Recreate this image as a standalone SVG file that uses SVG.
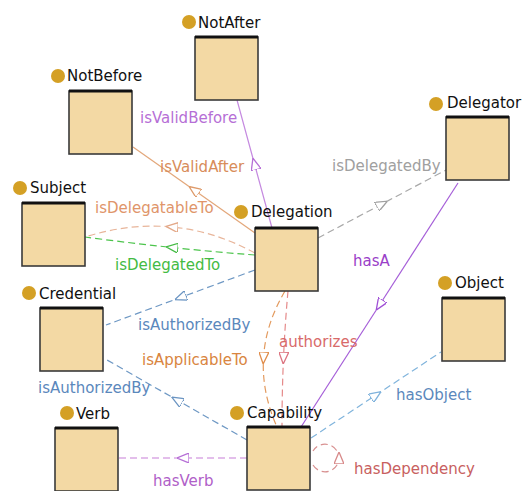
<svg xmlns="http://www.w3.org/2000/svg" width="522" height="491" viewBox="0 0 522 491">
  <style>
    text { font-family: "DejaVu Sans", Verdana, sans-serif; font-size: 15px; }
    .node-label { fill: #111; }
    .box { fill: #F3D9A4; stroke: #3a3a3a; stroke-width: 1.6; }
    .box-top { stroke: #111; stroke-width: 3; }
    .dot { fill: #D4A025; }
    .edge { fill: none; stroke-width: 1.2; }
    .dash { stroke-dasharray: 7 4; }
  </style>
  <defs>
    <!-- open triangle arrowheads, one per edge colour -->
    <marker id="a-purple" viewBox="0 0 12 10" refX="6" refY="5" markerWidth="12" markerHeight="10" markerUnits="userSpaceOnUse" orient="auto"><path d="M0,0 L12,5 L0,10 Z" fill="#fff" stroke="#B66FD6" stroke-width="1.3"/></marker>
    <marker id="a-orange" viewBox="0 0 12 10" refX="6" refY="5" markerWidth="12" markerHeight="10" markerUnits="userSpaceOnUse" orient="auto"><path d="M0,0 L12,5 L0,10 Z" fill="#fff" stroke="#DE9A6A" stroke-width="1.3"/></marker>
    <marker id="a-peach" viewBox="0 0 12 10" refX="6" refY="5" markerWidth="12" markerHeight="10" markerUnits="userSpaceOnUse" orient="auto"><path d="M0,0 L12,5 L0,10 Z" fill="#fff" stroke="#E3A888" stroke-width="1.3"/></marker>
    <marker id="a-green" viewBox="0 0 12 10" refX="6" refY="5" markerWidth="12" markerHeight="10" markerUnits="userSpaceOnUse" orient="auto"><path d="M0,0 L12,5 L0,10 Z" fill="#fff" stroke="#44BB44" stroke-width="1.3"/></marker>
    <marker id="a-gray" viewBox="0 0 12 10" refX="6" refY="5" markerWidth="12" markerHeight="10" markerUnits="userSpaceOnUse" orient="auto"><path d="M0,0 L12,5 L0,10 Z" fill="#fff" stroke="#A0A0A0" stroke-width="1.3"/></marker>
    <marker id="a-blue" viewBox="0 0 12 10" refX="6" refY="5" markerWidth="12" markerHeight="10" markerUnits="userSpaceOnUse" orient="auto"><path d="M0,0 L12,5 L0,10 Z" fill="#fff" stroke="#6A94C2" stroke-width="1.3"/></marker>
    <marker id="a-lightblue" viewBox="0 0 12 10" refX="6" refY="5" markerWidth="12" markerHeight="10" markerUnits="userSpaceOnUse" orient="auto"><path d="M0,0 L12,5 L0,10 Z" fill="#fff" stroke="#7FB2DC" stroke-width="1.3"/></marker>
    <marker id="a-amber" viewBox="0 0 12 10" refX="6" refY="5" markerWidth="12" markerHeight="10" markerUnits="userSpaceOnUse" orient="auto"><path d="M0,0 L12,5 L0,10 Z" fill="#fff" stroke="#E08C4A" stroke-width="1.3"/></marker>
    <marker id="a-pink" viewBox="0 0 12 10" refX="6" refY="5" markerWidth="12" markerHeight="10" markerUnits="userSpaceOnUse" orient="auto"><path d="M0,0 L12,5 L0,10 Z" fill="#fff" stroke="#DC7480" stroke-width="1.3"/></marker>
    <marker id="a-violet" viewBox="0 0 12 10" refX="6" refY="5" markerWidth="12" markerHeight="10" markerUnits="userSpaceOnUse" orient="auto"><path d="M0,0 L12,5 L0,10 Z" fill="#fff" stroke="#A050D6" stroke-width="1.3"/></marker>
    <marker id="a-rose" viewBox="0 0 12 10" refX="6" refY="5" markerWidth="12" markerHeight="10" markerUnits="userSpaceOnUse" orient="auto"><path d="M0,0 L12,5 L0,10 Z" fill="#fff" stroke="#D88A8A" stroke-width="1.3"/></marker>
  </defs>

  <rect width="522" height="491" fill="#fff"/>

  <g id="connectors">
    <path class="edge" stroke="#C58AE0" marker-mid="url(#a-purple)" d="M272,228 L254.5,164 L237,100"/>
    <path class="edge" stroke="#E3A77A" marker-mid="url(#a-orange)" d="M255,233 L194,190 L133,147"/>
    <path class="edge dash" stroke="#E8B59A" marker-mid="url(#a-peach)" d="M255,253 Q214.5,231 172,227 Q129.5,223 85,237"/>
    <path class="edge dash" stroke="#4CC44C" marker-mid="url(#a-green)" d="M255,255 Q214.5,252 172,247.5 Q129.5,243 85,237"/>
    <path class="edge dash" stroke="#A8A8A8" marker-mid="url(#a-gray)" d="M318,238 L382,204 L446,170"/>
    <path class="edge dash" stroke="#6E98C4" marker-mid="url(#a-blue)" d="M255,270 L180.5,297.5 L106,325"/>
    <path class="edge dash" stroke="#E39A5E" marker-mid="url(#a-amber)" d="M285,291 Q265.5,324 263.5,358 Q261.5,392 277,427"/>
    <path class="edge dash" stroke="#E58A8A" marker-mid="url(#a-pink)" d="M288,291 Q285,324 283.5,358 Q282,392 282,427"/>
    <path class="edge" stroke="#A55ED8" marker-mid="url(#a-violet)" d="M458,183 L379.5,305 L301,427"/>
    <path class="edge dash" stroke="#6E98C4" marker-mid="url(#a-blue)" d="M247,440 L177,400 L107,360"/>
    <path class="edge dash" stroke="#C87ED8" marker-mid="url(#a-purple)" d="M247,458 L183,458 L119,458"/>
    <path class="edge dash" stroke="#80B4DC" marker-mid="url(#a-lightblue)" d="M311,438 L376,395 L441,352"/>
    <path class="edge dash" stroke="#D89090" marker-mid="url(#a-rose)" d="M313,465 A14,14 0 0 0 339,458 A14,14 0 0 0 313,451"/>
  </g>

  <g id="node-NotAfter">
    <rect class="box" x="195" y="37" width="63" height="63"/>
    <line class="box-top" x1="195" y1="37" x2="258" y2="37"/>
    <circle class="dot" cx="189" cy="22" r="7"/>
    <text class="node-label" x="198" y="28">NotAfter</text>
  </g>
  <g id="node-NotBefore">
    <rect class="box" x="69" y="91" width="63" height="63"/>
    <line class="box-top" x1="69" y1="91" x2="132" y2="91"/>
    <circle class="dot" cx="58" cy="76" r="7"/>
    <text class="node-label" x="67" y="81">NotBefore</text>
  </g>
  <g id="node-Subject">
    <rect class="box" x="22" y="203" width="63" height="63"/>
    <line class="box-top" x1="22" y1="203" x2="85" y2="203"/>
    <circle class="dot" cx="20" cy="188" r="7"/>
    <text class="node-label" x="30" y="193">Subject</text>
  </g>
  <g id="node-Delegation">
    <rect class="box" x="255" y="228" width="63" height="63"/>
    <line class="box-top" x1="255" y1="228" x2="318" y2="228"/>
    <circle class="dot" cx="241" cy="212" r="7"/>
    <text class="node-label" x="251" y="217">Delegation</text>
  </g>
  <g id="node-Delegator">
    <rect class="box" x="446" y="117" width="63" height="63"/>
    <line class="box-top" x1="446" y1="117" x2="509" y2="117"/>
    <circle class="dot" cx="436" cy="104" r="7"/>
    <text class="node-label" x="447" y="108">Delegator</text>
  </g>
  <g id="node-Credential">
    <rect class="box" x="40" y="308" width="63" height="63"/>
    <line class="box-top" x1="40" y1="308" x2="103" y2="308"/>
    <circle class="dot" cx="29" cy="293" r="7"/>
    <text class="node-label" x="39" y="299">Credential</text>
  </g>
  <g id="node-Verb">
    <rect class="box" x="55" y="428" width="63" height="63"/>
    <line class="box-top" x1="55" y1="428" x2="118" y2="428"/>
    <circle class="dot" cx="67" cy="413" r="7"/>
    <text class="node-label" x="76" y="419">Verb</text>
  </g>
  <g id="node-Capability">
    <rect class="box" x="247" y="427" width="63" height="63"/>
    <line class="box-top" x1="247" y1="427" x2="310" y2="427"/>
    <circle class="dot" cx="237" cy="413" r="7"/>
    <text class="node-label" x="247" y="418">Capability</text>
  </g>
  <g id="node-Object">
    <rect class="box" x="442" y="298" width="63" height="63"/>
    <line class="box-top" x1="442" y1="298" x2="505" y2="298"/>
    <circle class="dot" cx="445" cy="283" r="7"/>
    <text class="node-label" x="455" y="288">Object</text>
  </g>

  <g id="edge-labels">
    <text x="140" y="123" fill="#B66FD6">isValidBefore</text>
    <text x="160" y="172" fill="#D88C5A">isValidAfter</text>
    <text x="95" y="213" fill="#E0956A">isDelegatableTo</text>
    <text x="115" y="270" fill="#44BB44">isDelegatedTo</text>
    <text x="332" y="171" fill="#A0A0A0">isDelegatedBy</text>
    <text x="138" y="330" fill="#5B88BC">isAuthorizedBy</text>
    <text x="142" y="365" fill="#D98540">isApplicableTo</text>
    <text x="279" y="347" fill="#D86A6A">authorizes</text>
    <text x="353" y="266" fill="#9A40C8">hasA</text>
    <text x="38" y="393" fill="#5B88BC">isAuthorizedBy</text>
    <text x="396" y="400" fill="#5B88BC">hasObject</text>
    <text x="153" y="486" fill="#B060C8">hasVerb</text>
    <text x="354" y="474" fill="#C86060">hasDependency</text>
  </g>
</svg>
